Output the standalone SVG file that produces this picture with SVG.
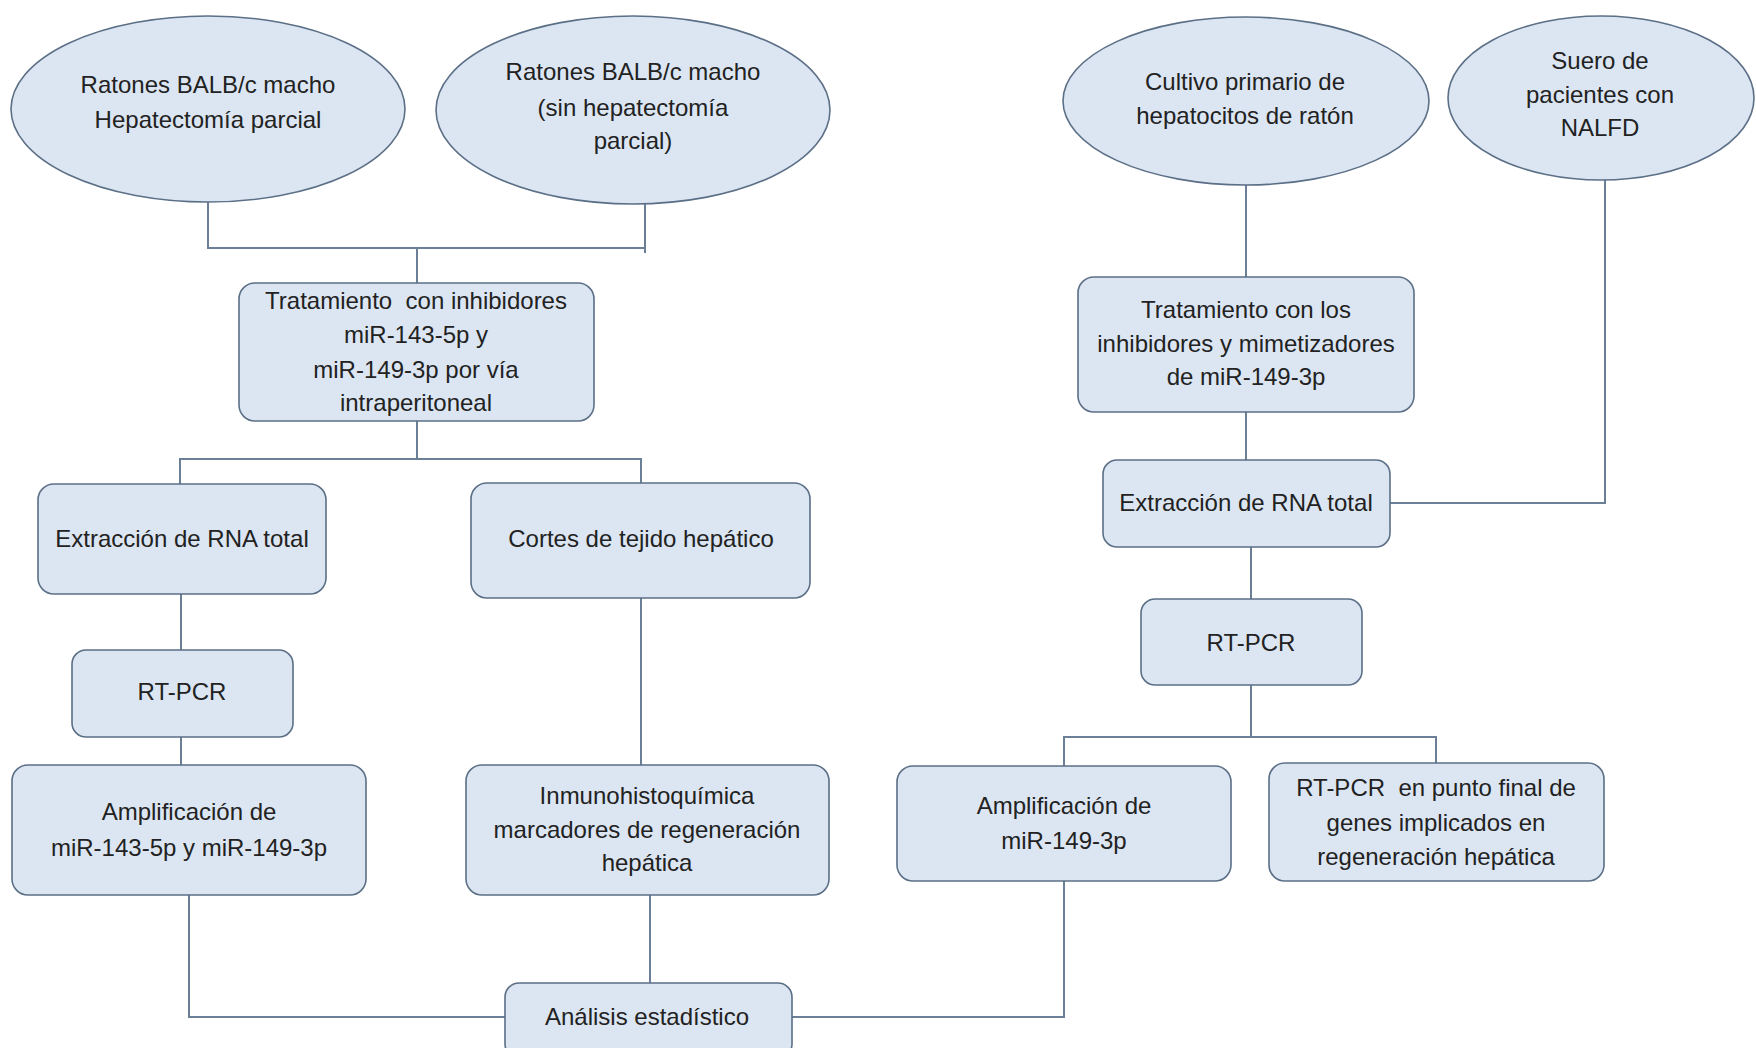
<svg xmlns="http://www.w3.org/2000/svg" width="1756" height="1048" viewBox="0 0 1756 1048">
<style>
.n{fill:#dce6f2;stroke:#5b6f86;stroke-width:1.6}
.t{font-family:"Liberation Sans",Arial,sans-serif;font-size:24px;fill:#222;text-anchor:middle}
.c{fill:none;stroke:#6b8096;stroke-width:2}
</style>
<rect x="0" y="0" width="1756" height="1048" fill="#ffffff"/>
<g id="connectors">
<polyline class="c" points="208,202 208,248 645,248"/>
<line class="c" x1="645" y1="204" x2="645" y2="253"/>
<line class="c" x1="417" y1="248" x2="417" y2="283"/>
<line class="c" x1="417" y1="421" x2="417" y2="459"/>
<polyline class="c" points="180,484 180,459 641,459 641,483"/>
<line class="c" x1="181" y1="594" x2="181" y2="650"/>
<line class="c" x1="181" y1="737" x2="181" y2="765"/>
<line class="c" x1="641" y1="598" x2="641" y2="765"/>
<polyline class="c" points="189,895 189,1017 505,1017"/>
<line class="c" x1="650" y1="895" x2="650" y2="983"/>
<polyline class="c" points="792,1017 1064,1017 1064,881"/>
<line class="c" x1="1246" y1="185" x2="1246" y2="277"/>
<line class="c" x1="1246" y1="412" x2="1246" y2="460"/>
<polyline class="c" points="1390,503 1605,503 1605,180"/>
<line class="c" x1="1251" y1="547" x2="1251" y2="599"/>
<line class="c" x1="1251" y1="685" x2="1251" y2="737"/>
<polyline class="c" points="1064,766 1064,737 1436,737 1436,763"/>
</g>
<g id="n_ratones_hp">
<ellipse class="n" cx="208" cy="109" rx="197" ry="93"/>
<text class="t" x="208" y="93">Ratones BALB/c macho</text>
<text class="t" x="208" y="128">Hepatectomía parcial</text>
</g>
<g id="n_ratones_sin">
<ellipse class="n" cx="633" cy="110" rx="197" ry="94"/>
<text class="t" x="633" y="80">Ratones BALB/c macho</text>
<text class="t" x="633" y="116">(sin hepatectomía</text>
<text class="t" x="633" y="149">parcial)</text>
</g>
<g id="n_cultivo">
<ellipse class="n" cx="1246" cy="101" rx="183" ry="84"/>
<text class="t" x="1245" y="90">Cultivo primario de</text>
<text class="t" x="1245" y="124">hepatocitos de ratón</text>
</g>
<g id="n_suero">
<ellipse class="n" cx="1601" cy="98" rx="153" ry="82"/>
<text class="t" x="1600" y="69">Suero de</text>
<text class="t" x="1600" y="103">pacientes con</text>
<text class="t" x="1600" y="136">NALFD</text>
</g>
<g id="n_tratamiento_inh">
<rect class="n" x="239" y="283" width="355" height="138" rx="16"/>
<text class="t" x="416" y="309" xml:space="preserve">Tratamiento  con inhibidores</text>
<text class="t" x="416" y="343">miR-143-5p y</text>
<text class="t" x="416" y="378">miR-149-3p por vía</text>
<text class="t" x="416" y="411">intraperitoneal</text>
</g>
<g id="n_extraccion_l">
<rect class="n" x="38" y="484" width="288" height="110" rx="16"/>
<text class="t" x="182" y="547">Extracción de RNA total</text>
</g>
<g id="n_cortes">
<rect class="n" x="471" y="483" width="339" height="115" rx="16"/>
<text class="t" x="641" y="547">Cortes de tejido hepático</text>
</g>
<g id="n_rtpcr_l">
<rect class="n" x="72" y="650" width="221" height="87" rx="14"/>
<text class="t" x="182" y="700">RT-PCR</text>
</g>
<g id="n_amplif_l">
<rect class="n" x="12" y="765" width="354" height="130" rx="16"/>
<text class="t" x="189" y="820">Amplificación de</text>
<text class="t" x="189" y="856">miR-143-5p y miR-149-3p</text>
</g>
<g id="n_inmuno">
<rect class="n" x="466" y="765" width="363" height="130" rx="16"/>
<text class="t" x="647" y="804">Inmunohistoquímica</text>
<text class="t" x="647" y="838">marcadores de regeneración</text>
<text class="t" x="647" y="871">hepática</text>
</g>
<g id="n_analisis">
<rect class="n" x="505" y="983" width="287" height="75" rx="14"/>
<text class="t" x="647" y="1025">Análisis estadístico</text>
</g>
<g id="n_tratamiento_r">
<rect class="n" x="1078" y="277" width="336" height="135" rx="16"/>
<text class="t" x="1246" y="318">Tratamiento con los</text>
<text class="t" x="1246" y="352">inhibidores y mimetizadores</text>
<text class="t" x="1246" y="385">de miR-149-3p</text>
</g>
<g id="n_extraccion_r">
<rect class="n" x="1103" y="460" width="287" height="87" rx="14"/>
<text class="t" x="1246" y="511">Extracción de RNA total</text>
</g>
<g id="n_rtpcr_r">
<rect class="n" x="1141" y="599" width="221" height="86" rx="14"/>
<text class="t" x="1251" y="651">RT-PCR</text>
</g>
<g id="n_amplif_r">
<rect class="n" x="897" y="766" width="334" height="115" rx="16"/>
<text class="t" x="1064" y="814">Amplificación de</text>
<text class="t" x="1064" y="849">miR-149-3p</text>
</g>
<g id="n_rtpcr_final">
<rect class="n" x="1269" y="763" width="335" height="118" rx="16"/>
<text class="t" x="1436" y="796" xml:space="preserve">RT-PCR  en punto final de</text>
<text class="t" x="1436" y="831">genes implicados en</text>
<text class="t" x="1436" y="865">regeneración hepática</text>
</g>
</svg>
